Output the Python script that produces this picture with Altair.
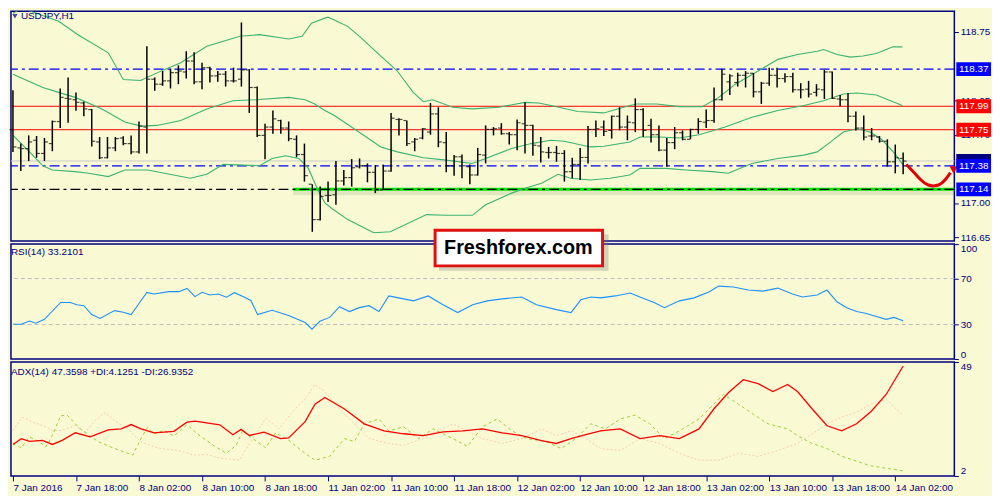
import altair as alt
import pandas as pd

# ---------------- data ----------------
bar_open = [117.750,117.564,117.557,117.642,117.507,117.608,117.834,118.071,118.057,118.024,
            117.956,117.625,117.463,117.564,117.665,117.608,117.523,117.777,118.267,118.216,
            118.250,118.334,118.341,118.453,118.240,118.385,118.301,118.318,118.250,118.267,
            118.362,118.182,117.692,117.777,117.844,117.767,117.652,117.496,117.192,116.830,
            117.077,117.084,117.226,117.260,117.371,117.381,117.314,117.134,117.327,117.855,
            117.844,117.625,117.665,117.726,117.912,117.618,117.381,117.473,117.371,117.287,
            117.490,117.753,117.767,117.709,117.699,117.811,117.794,117.584,117.517,117.517,
            117.507,117.320,117.395,117.466,117.753,117.777,117.743,117.888,117.777,117.821,
            117.956,117.794,117.699,117.541,117.618,117.719,117.652,117.753,117.827,117.844,
            118.057,118.240,118.233,118.307,118.328,118.138,118.226,118.307,118.274,118.294,
            118.159,118.165,118.132,118.159,118.341,118.064,118.057,117.888,117.767,117.686,
            117.675,117.632,117.422,117.456]
bar_high = [118.155,117.608,117.692,117.686,117.665,117.844,118.172,118.284,118.132,118.037,
            117.963,117.675,117.675,117.675,117.682,117.692,117.834,118.605,118.284,118.351,
            118.375,118.409,118.554,118.544,118.436,118.395,118.351,118.351,118.385,118.848,
            118.370,118.192,117.811,117.946,117.851,117.834,117.692,117.608,117.192,117.168,
            117.219,117.429,117.338,117.449,117.456,117.405,117.388,117.395,117.922,117.868,
            117.844,117.665,117.767,118.024,117.980,117.726,117.490,117.496,117.395,117.564,
            117.794,117.777,117.817,117.726,117.855,118.030,117.800,117.675,117.574,117.584,
            117.541,117.463,117.564,117.787,117.844,117.844,117.895,117.980,117.895,118.071,
            117.970,117.861,117.794,117.665,117.777,117.743,117.760,117.868,117.956,118.182,
            118.375,118.318,118.334,118.351,118.330,118.240,118.385,118.385,118.328,118.334,
            118.226,118.250,118.216,118.362,118.345,118.105,118.125,117.936,117.895,117.767,
            117.686,117.652,117.598,117.517]
bar_low = [117.523,117.327,117.429,117.463,117.429,117.530,117.767,117.821,117.943,117.888,
           117.578,117.449,117.456,117.530,117.591,117.500,117.507,117.507,118.149,118.199,
           118.172,118.216,118.274,118.216,118.165,118.233,118.240,118.192,118.233,118.192,
           117.922,117.675,117.449,117.709,117.709,117.632,117.469,117.219,116.705,116.820,
           117.010,116.982,117.179,117.168,117.354,117.212,117.101,117.134,117.320,117.692,
           117.584,117.530,117.652,117.699,117.571,117.314,117.280,117.253,117.192,117.280,
           117.405,117.692,117.699,117.598,117.541,117.507,117.483,117.415,117.456,117.422,
           117.219,117.253,117.236,117.405,117.675,117.686,117.659,117.743,117.642,117.726,
           117.675,117.618,117.530,117.371,117.551,117.642,117.652,117.709,117.767,117.821,
           118.050,118.105,118.192,118.182,118.081,118.014,118.199,118.182,118.233,118.132,
           118.071,118.081,118.091,118.064,118.064,117.990,117.827,117.743,117.642,117.642,
           117.618,117.371,117.304,117.294]
bar_close = [117.574,117.557,117.625,117.507,117.625,117.834,118.081,118.064,118.030,117.963,
             117.632,117.463,117.564,117.659,117.608,117.523,117.787,118.267,118.216,118.250,
             118.334,118.351,118.453,118.240,118.385,118.301,118.318,118.250,118.250,118.362,
             118.182,117.692,117.777,117.861,117.767,117.659,117.496,117.280,116.830,117.067,
             117.077,117.226,117.260,117.361,117.381,117.314,117.134,117.327,117.868,117.855,
             117.608,117.652,117.760,117.912,117.625,117.381,117.473,117.381,117.287,117.496,
             117.753,117.760,117.709,117.699,117.821,117.794,117.591,117.523,117.517,117.507,
             117.320,117.395,117.466,117.753,117.760,117.733,117.888,117.777,117.827,117.956,
             117.743,117.699,117.541,117.618,117.719,117.652,117.753,117.834,117.844,118.057,
             118.318,118.301,118.307,118.328,118.138,118.226,118.307,118.274,118.294,118.159,
             118.159,118.115,118.165,118.341,118.071,118.057,117.888,117.767,117.675,117.686,
             117.632,117.422,117.463,117.429]

bb_up_i = [0,1.2,5.8,8.3,12.1,14.0,16.2,19.2,21.3,24.6,28.8,31.3,35.0,36.7,37.9,39.6,40.0,42.5,44.2,
           46.7,48.8,50.8,52.1,53.3,55.8,58.3,61.7,65.0,66.7,68.3,71.7,75.0,78.3,79.2,81.7,84.6,
           87.5,89.6,91.7,94.6,97.1,99.6,102.1,102.9,104.6,106.3,107.9,109.6,111.7,112.9]
bb_up_v = [118.943,118.993,118.86,118.72,118.537,118.263,118.253,118.365,118.436,118.605,118.706,
           118.723,118.679,118.706,118.84,118.892,118.902,118.808,118.69,118.504,118.351,118.132,
           118.037,118.057,117.98,117.963,117.98,118.03,118.024,117.997,117.936,117.922,117.997,
           118.014,118.014,117.986,117.986,118.081,118.216,118.351,118.47,118.52,118.554,118.571,
           118.52,118.493,118.504,118.531,118.598,118.598]
bb_mid_i = [0,3.8,5.8,7.9,11.3,14.2,16.3,18.3,21.3,24.6,27.9,30.8,35.0,37.1,38.3,39.6,40.8,43.3,46.7,
            48.8,52.1,55.0,58.3,60.0,63.3,65.8,68.3,70.0,73.3,75.0,78.3,79.6,82.1,84.6,87.1,90.4,
            93.8,97.1,100.4,102.9,105.4,107.1,109.6,111.7,112.9]
bb_mid_v = [118.318,118.182,118.132,118.081,117.963,117.828,117.787,117.794,117.844,117.963,118.047,
            118.057,118.081,118.057,118.014,117.946,117.895,117.76,117.574,117.523,117.463,117.439,
            117.405,117.456,117.557,117.608,117.642,117.632,117.574,117.581,117.625,117.675,117.675,
            117.665,117.699,117.777,117.878,117.946,117.997,118.047,118.115,118.125,118.105,118.037,
            117.997]
bb_lo_i = [0,2.1,3.8,5.0,7.9,9.6,12.1,14.2,17.1,20.4,22.5,24.6,26.7,31.3,32.9,34.6,36.3,37.5,38.8,
           39.6,40.4,42.5,45.8,47.9,52.5,55.0,58.3,60.0,63.3,65.0,67.1,69.2,70.8,73.3,75.8,78.3,
           79.6,82.9,85.4,88.8,90.8,93.8,97.1,100.4,102.1,103.8,105.4,107.1,108.8,110.4,112.1,113.0]
bb_lo_v = [117.692,117.523,117.381,117.338,117.321,117.304,117.27,117.338,117.338,117.287,117.253,
           117.294,117.395,117.381,117.456,117.483,117.456,117.354,117.118,117.0,116.949,116.83,
           116.695,116.705,116.881,116.874,116.874,116.982,117.101,117.152,117.202,117.294,117.253,
           117.236,117.253,117.287,117.354,117.354,117.338,117.321,117.304,117.405,117.456,117.49,
           117.523,117.625,117.726,117.76,117.726,117.642,117.49,117.388]

rsi_i = [0,1.05,2.1,2.9,4.0,6.05,7.3,8.1,9.0,10.0,11.05,12.9,14.0,15.0,16.05,17.0,17.9,19.8,21.05,
         22.1,23.1,24.0,25.0,26.05,27.1,28.1,29.2,30.2,31.05,32.9,35.0,37.1,37.96,38.96,40.21,
         41.46,42.71,43.96,45.21,46.46,47.71,48.96,50.84,52.71,54.59,56.46,58.34,60.21,62.09,
         64.59,66.46,68.96,70.84,72.09,73.34,74.59,76.46,78.34,79.59,81.46,82.71,84.59,86.46,
         88.34,89.59,91.46,93.34,95.21,97.09,98.96,100.21,102.09,103.34,104.59,105.84,107.09,
         108.34,109.59,110.84,111.84,113]
rsi_v = [30.2,30.2,33.0,31.1,34.5,49.2,49.2,47.2,46.4,38.7,35.3,42.1,40.7,38.7,48.7,58.0,56.6,58.6,
         58.6,61.4,54.3,58.0,55.7,56.6,53.8,57.7,54.3,50.9,38.7,42.4,37.9,31.7,26.0,32.8,36.2,
         45.5,41.3,44.7,46.4,41.3,54.9,53.2,50.6,54.9,47.2,40.4,47.2,50.6,52.3,54.0,47.2,43.0,
         40.4,51.5,54.0,53.2,54.9,57.4,54.0,48.9,44.7,50.6,53.2,58.3,63.4,62.6,60.0,59.1,61.7,
         56.6,54.0,55.7,60.0,49.8,44.7,41.3,39.6,37.0,34.5,36.2,33.2101]

adx_i = [0,1.05,2.1,3.75,5.0,6.25,7.92,9.8,12.09,13.75,15.0,16.25,17.92,20.42,22.09,23.12,26.25,
         27.92,28.96,30.0,31.87,33.96,35.0,37.09,38.34,39.59,42.09,44.59,47.09,49.59,52.09,54.59,
         57.09,59.59,62.09,64.59,67.09,68.96,70.84,72.71,74.59,77.09,79.59,82.09,84.59,87.09,
         88.96,90.84,92.71,94.59,96.46,98.34,99.59,101.46,103.34,105.21,107.09,108.96,110.84,113]
adx_v = [15.0,17.4,16.3,16.7,15.0,16.7,19.8,18.1,21.0,21.4,23.2,21.4,19.8,20.4,24.2,24.6,23.1,19.0,
         21.2,18.7,20.1,17.4,17.7,24.4,31.6,34.4,29.6,23.5,20.6,19.4,18.6,20.2,20.6,21.4,19.8,
         18.6,16.6,15.4,17.4,19.0,20.6,21.4,17.4,18.6,17.4,21.4,29.6,36.4,41.7,40.1,36.8,39.7,
         36.8,29.6,22.7,20.6,23.5,28.7,35.6,47.3598]
pdi_i = [0,1.05,2.09,3.34,4.17,5.0,6.05,6.87,8.55,9.59,10.84,12.92,15.21,16.25,17.09,17.92,19.17,
         20.42,22.09,23.75,25.42,27.09,28.34,29.17,30.42,32.09,33.34,35.0,37.09,38.34,40.21,42.09,
         43.34,44.59,46.46,47.71,49.59,51.46,53.34,55.84,57.71,59.59,61.46,63.34,65.21,67.71,
         69.59,71.46,73.34,75.21,77.09,78.96,80.84,82.71,84.59,87.09,88.96,90.21,92.09,93.96,
         95.84,98.34,99.59,101.46,103.34,105.21,107.09,108.96,110.84,113]
pdi_v = [15.4,13.6,18.1,16.1,14.0,18.7,26.8,27.1,21.4,19.0,16.1,13.3,10.6,17.4,22.1,19.4,20.8,18.5,
         23.1,18.5,14.7,11.3,14.7,20.8,17.4,13.6,19.8,16.7,11.3,8.5,10.1,17.4,16.2,23.5,25.5,20.6,
         22.3,17.4,21.4,17.4,14.2,22.3,25.5,20.6,17.4,16.2,13.3,17.4,23.5,21.4,25.5,27.1,23.5,
         17.4,20.6,25.5,31.6,35.6,31.6,27.5,23.5,21.4,18.6,15.4,13.3,10.1,8.1,6.1,5.2,4.1251]
mdi_i = [0,1.25,2.5,3.75,5.0,6.25,7.92,9.17,10.42,11.67,12.92,14.59,16.25,18.34,21.25,22.92,24.59,
         26.25,28.75,30.42,32.09,33.75,35.42,37.09,38.34,39.59,41.46,43.34,45.21,47.71,49.59,
         52.09,53.96,55.84,57.71,59.59,62.09,64.59,67.09,68.96,70.84,72.71,74.59,77.09,79.59,
         82.09,84.59,87.09,89.59,92.09,94.59,97.09,99.59,101.46,103.34,105.21,107.09,108.96,
         110.84,112.0,113]
mdi_v = [20.8,26.2,24.2,22.8,20.8,20.8,22.8,20.1,24.8,28.2,24.8,21.4,16.1,13.6,12.3,10.6,10.9,9.3,
         8.6,17.4,25.8,21.4,28.2,33.9,39.7,36.8,29.6,23.5,17.4,15.4,14.6,17.4,20.6,23.5,20.6,17.4,
         15.4,17.4,21.4,18.6,20.6,17.4,13.3,12.5,17.4,15.4,11.3,8.5,8.5,11.3,10.1,12.5,15.4,19.4,
         23.5,26.3,28.3,31.6,33.6,30.0,26.9352]

x_tick_labels = ["7 Jan 2016", "7 Jan 18:00", "8 Jan 02:00", "8 Jan 10:00", "8 Jan 18:00",
                 "11 Jan 02:00", "11 Jan 10:00", "11 Jan 18:00", "12 Jan 02:00", "12 Jan 10:00",
                 "12 Jan 18:00", "13 Jan 02:00", "13 Jan 10:00", "13 Jan 18:00", "14 Jan 02:00"]
# 118.40 and 117.35 are hidden behind the level boxes in the picture
price_ticks = [116.65, 117.00, 117.70, 118.05, 118.75]

level_blue = [118.37, 117.38]
level_red = [117.99, 117.75]
level_black = [117.14]
bid_price = 117.43
support_start, support_end, support_price = 35.6, 119.5, 117.14

label_prices = [117.43, 118.37, 117.99, 117.75, 117.38, 117.14]
label_texts = ["", "118.37", "117.99", "117.75", "117.38", "117.14"]
label_colors = ["#000080", "#0000FF", "#FF0000", "#FF0000", "#0000FF", "#0000FF"]

arrow_i = [113.4, 114.5, 115.2, 116.1, 117.6, 118.4, 119.0]
arrow_p = [117.394, 117.303, 117.239, 117.173, 117.173, 117.239, 117.31]

# ---------------- styling ----------------
NAVY = "#000080"
BG = "#F9F9D3"
FONT = "Liberation Sans"
W = 952
xs = alt.Scale(domain=[-0.25, 119.5], nice=False, zero=False)
ps = alt.Scale(domain=[116.61, 118.963], nice=False, zero=False)
rs = alt.Scale(domain=[0, 100], nice=False, zero=False)
ads = alt.Scale(domain=[2, 49], nice=False, zero=False)

def yaxis(values, flush, fmt=None):
    kw = dict(values=values, orient="right", title=None, domain=False, grid=False,
              tickSize=4, tickColor=NAVY, labelColor=NAVY, labelPadding=2, labelFont=FONT,
              labelFontSize=10, labelOverlap=False, labelFlush=flush)
    if fmt:
        kw["format"] = fmt
    return alt.Axis(**kw)

YA = yaxis(price_ticks, False, ".2f")
RA = yaxis([0, 30, 70, 100], True)
AA = yaxis([2, 49], True)

expr = "[" + ",".join("'%s'" % s for s in x_tick_labels) + "][round(datum.value/8)]"
XA = alt.Axis(values=list(range(0, 113, 8)), labelExpr=expr, title=None, domain=False, grid=False,
              tickSize=5, tickColor=NAVY, labelColor=NAVY, labelAlign="left", labelBaseline="top",
              labelPadding=2, labelFlush=False, labelOverlap=False, labelFont=FONT, labelFontSize=10)

def X(f, axis=None):
    return alt.X(f, scale=xs, axis=axis)

dummy = pd.DataFrame({"a": [0]})

# ---------------- main panel ----------------
bars = pd.DataFrame({"i": list(range(len(bar_open))), "o": bar_open, "h": bar_high,
                     "l": bar_low, "c": bar_close})

def Yp(f):
    return alt.Y(f, scale=ps, axis=YA)

bid_line = alt.Chart(pd.DataFrame({"p": [bid_price]})).mark_rule(color="#C8C8C8", strokeWidth=1).encode(y=Yp("p:Q"))
red_lines = alt.Chart(pd.DataFrame({"p": level_red})).mark_rule(color="#FF0000", strokeWidth=1).encode(y=Yp("p:Q"))
blue_lines = alt.Chart(pd.DataFrame({"p": level_blue})).mark_rule(
    color="#0000FF", strokeWidth=1.2, strokeDash=[10, 4, 3, 4]).encode(y=Yp("p:Q"))
sup = pd.DataFrame({"s": [support_start], "e": [support_end], "p": [support_price]})
green_shadow = alt.Chart(sup).mark_rule(color="#6E8E5E", strokeWidth=6, opacity=0.18, yOffset=3).encode(
    x=X("s:Q"), x2="e:Q", y=Yp("p:Q"))
green_line = alt.Chart(sup).mark_rule(color="#00E600", strokeWidth=3).encode(x=X("s:Q"), x2="e:Q", y=Yp("p:Q"))
black_lines = alt.Chart(pd.DataFrame({"p": level_black})).mark_rule(
    color="#000000", strokeWidth=1.2, strokeDash=[10, 4, 3, 4]).encode(y=Yp("p:Q"))

def band(ii, vv):
    return alt.Chart(pd.DataFrame({"i": ii, "v": vv})).mark_line(
        color="#3CB371", strokeWidth=1.1, clip=True).encode(x=X("i:Q"), y=Yp("v:Q"))

bb = band(bb_up_i, bb_up_v) + band(bb_mid_i, bb_mid_v) + band(bb_lo_i, bb_lo_v)

hl = alt.Chart(bars).mark_rule(color="black", strokeWidth=1.5).encode(x=X("i:Q"), y=Yp("l:Q"), y2="h:Q")
otick = alt.Chart(bars).mark_tick(color="black", orient="horizontal", size=3, thickness=1.2, xOffset=-2).encode(
    x=X("i:Q"), y=Yp("o:Q"))
ctick = alt.Chart(bars).mark_tick(color="black", orient="horizontal", size=3, thickness=1.2, xOffset=2).encode(
    x=X("i:Q"), y=Yp("c:Q"))

arrow_df = pd.DataFrame({"i": arrow_i, "p": arrow_p, "k": list(range(len(arrow_i)))})
arrow = alt.Chart(arrow_df).mark_line(color="#E00000", strokeWidth=3, interpolate="basis").encode(
    x=X("i:Q"), y=Yp("p:Q"), order="k:Q")
arrow_head = alt.Chart(pd.DataFrame({"i": [119.55], "p": [117.355]})).mark_point(
    shape="triangle-up", filled=True, color="#E00000", size=70, angle=62, opacity=1).encode(
    x=X("i:Q"), y=Yp("p:Q"))

lab_df = pd.DataFrame({"p": label_prices, "t": label_texts, "col": label_colors})
lab_box = alt.Chart(lab_df).transform_calculate(top="datum.p + 0.071", bot="datum.p - 0.071").mark_rect().encode(
    x=alt.value(W + 2), x2=alt.value(W + 37), y=Yp("top:Q"), y2="bot:Q",
    color=alt.Color("col:N", scale=None))
lab_txt = alt.Chart(lab_df).transform_filter("datum.t != ''").mark_text(
    color="white", font=FONT, fontSize=10, align="center", baseline="middle").encode(
    x=alt.value(W + 19.5), y=Yp("p:Q"), text="t:N")

title_icon = alt.Chart(dummy).mark_point(shape="triangle-down", filled=True, color=NAVY, size=28).encode(
    x=alt.value(4), y=alt.value(5))
title_txt = alt.Chart(dummy).mark_text(text="USDJPY,H1", font=FONT, fontSize=10, color=NAVY,
                                       align="left", baseline="middle").encode(x=alt.value(10), y=alt.value(5))

main = alt.layer(bid_line, red_lines, blue_lines, green_shadow, green_line, black_lines, bb,
                 hl, otick, ctick, arrow, arrow_head, lab_box, lab_txt, title_icon, title_txt
                 ).properties(width=W, height=232)

# ---------------- RSI panel ----------------
def Yr(f):
    return alt.Y(f, scale=rs, axis=RA)

rsi_levels = alt.Chart(pd.DataFrame({"v": [30, 70]})).mark_rule(
    color="#BDBDBD", strokeDash=[4, 3], strokeWidth=1).encode(y=Yr("v:Q"))
rsi_line = alt.Chart(pd.DataFrame({"i": rsi_i, "v": rsi_v})).mark_line(
    color="#1E90FF", strokeWidth=1.1).encode(x=X("i:Q"), y=Yr("v:Q"))
rsi_txt = alt.Chart(dummy).mark_text(text="RSI(14) 33.2101", font=FONT, fontSize=10, color=NAVY,
                                     align="left", baseline="middle").encode(x=alt.value(0), y=alt.value(8))
logo_shadow = alt.Chart(dummy).mark_rect(color="#777777", opacity=0.3).encode(
    x=alt.value(432), x2=alt.value(603), y=alt.value(-10), y2=alt.value(27))
logo_box = alt.Chart(dummy).mark_rect(fill="white", stroke="#E01010", strokeWidth=3).encode(
    x=alt.value(428), x2=alt.value(597), y=alt.value(-14), y2=alt.value(22))
logo_txt = alt.Chart(dummy).mark_text(text="Freshforex.com", font=FONT, fontWeight="bold", fontSize=20,
                                      color="black", align="center", baseline="middle").encode(
    x=alt.value(512), y=alt.value(4))

rsi = alt.layer(rsi_levels, rsi_line, rsi_txt, logo_shadow, logo_box, logo_txt).properties(width=W, height=116)

# ---------------- ADX panel ----------------
def Ya(f):
    return alt.Y(f, scale=ads, axis=AA)

mdi_line = alt.Chart(pd.DataFrame({"i": mdi_i, "v": mdi_v})).mark_line(
    color="#F7CDB0", strokeWidth=1, strokeDash=[2, 2]).encode(x=X("i:Q", XA), y=Ya("v:Q"))
pdi_line = alt.Chart(pd.DataFrame({"i": pdi_i, "v": pdi_v})).mark_line(
    color="#9ACD32", strokeWidth=1, strokeDash=[3, 3]).encode(x=X("i:Q", XA), y=Ya("v:Q"))
adx_line = alt.Chart(pd.DataFrame({"i": adx_i, "v": adx_v})).mark_line(
    color="#FF0000", strokeWidth=1.3).encode(x=X("i:Q", XA), y=Ya("v:Q"))
adx_txt = alt.Chart(dummy).mark_text(text="ADX(14) 47.3598 +DI:4.1251 -DI:26.9352", font=FONT, fontSize=10,
                                     color=NAVY, align="left", baseline="middle").encode(
    x=alt.value(0), y=alt.value(10))

adx = alt.layer(mdi_line, pdi_line, adx_line, adx_txt).properties(width=W, height=115)

chart = alt.vconcat(main, rsi, adx, spacing=3, padding=0, bounds="flush").configure(
    background=BG).configure_view(stroke=NAVY, strokeWidth=1.5)

chart.save("out.html", embed_options={"renderer": "svg", "actions": False})
